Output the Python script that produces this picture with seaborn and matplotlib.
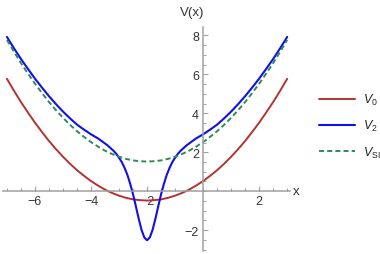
import matplotlib
matplotlib.use("Agg")
import matplotlib.pyplot as plt
import seaborn as sns
from matplotlib.ticker import FixedLocator, MultipleLocator

# values
x_grid = [-7, -6.75, -6.5, -6.25, -6, -5.75, -5.5, -5.25, -5, -4.75, -4.5, -4.25, -4,
          -3.75, -3.5, -3.25, -3, -2.75, -2.5, -2.25, -2, -1.75, -1.5, -1.25, -1,
          -0.75, -0.5, -0.25, 0, 0.25, 0.5, 0.75, 1, 1.25, 1.5, 1.75, 2, 2.25, 2.5, 2.75, 3]
v0 = [5.77, 5.16, 4.58, 4.04, 3.52, 3.04, 2.58, 2.16, 1.77, 1.41, 1.08, 0.79, 0.52,
      0.29, 0.08, -0.09, -0.23, -0.34, -0.42, -0.46, -0.48, -0.46, -0.42, -0.34, -0.23,
      -0.09, 0.08, 0.29, 0.52, 0.79, 1.08, 1.41, 1.77, 2.16, 2.58, 3.04, 3.52, 4.04, 4.58, 5.16, 5.77]
v_si = [7.77, 7.16, 6.58, 6.04, 5.52, 5.04, 4.58, 4.16, 3.77, 3.41, 3.08, 2.79, 2.52,
        2.29, 2.08, 1.91, 1.77, 1.66, 1.58, 1.54, 1.52, 1.54, 1.58, 1.66, 1.77,
        1.91, 2.08, 2.29, 2.52, 2.79, 3.08, 3.41, 3.77, 4.16, 4.58, 5.04, 5.52, 6.04, 6.58, 7.16, 7.77]

x_v2 = [-7, -6.75, -6.5, -6.25, -6, -5.75, -5.5, -5.25, -5, -4.75, -4.5, -4.25, -4, -3.75,
        -3.5, -3.4, -3.3, -3.2, -3.1, -3.0, -2.9, -2.8, -2.7, -2.6, -2.5, -2.4, -2.3, -2.2, -2.1,
        -2.0, -1.9, -1.8, -1.7, -1.6, -1.5, -1.4, -1.3, -1.2, -1.1, -1.0, -0.9, -0.8, -0.7, -0.6, -0.5,
        -0.25, 0, 0.25, 0.5, 0.75, 1, 1.25, 1.5, 1.75, 2, 2.25, 2.5, 2.75, 3]
v2 = [7.92, 7.34, 6.79, 6.28, 5.78, 5.32, 4.88, 4.47, 4.09, 3.74, 3.42, 3.16, 2.92, 2.71,
      2.45, 2.34, 2.21, 2.08, 1.92, 1.72, 1.49, 1.19, 0.83, 0.37, -0.16, -0.77, -1.40, -1.97, -2.37,
      -2.52, -2.37, -1.97, -1.40, -0.77, -0.16, 0.37, 0.83, 1.19, 1.49, 1.72, 1.92, 2.08, 2.21, 2.34, 2.45,
      2.71, 2.92, 3.16, 3.42, 3.74, 4.09, 4.47, 4.88, 5.32, 5.78, 6.28, 6.79, 7.34, 7.92]

x_ticks = [-6, -4, -2, 2]
y_ticks = [-2, 2, 4, 6, 8]

sns.set_style("white")
plt.rcParams['font.family'] = ['Liberation Sans', 'DejaVu Sans']
plt.rcParams['mathtext.fontset'] = 'custom'
plt.rcParams['mathtext.it'] = 'Liberation Sans:italic'
plt.rcParams['mathtext.rm'] = 'Liberation Sans'

fig = plt.figure(figsize=(3.8, 2.55), dpi=100)
ax = fig.add_axes([3/380, 3/255, 287/380, 224/255])

sns.lineplot(x=x_grid, y=v0, ax=ax, color='#b33232', lw=1.4, label=r'$V_0$')
sns.lineplot(x=x_v2, y=v2, ax=ax, color='#1010e8', lw=1.5, label=r'$V_2$')
sns.lineplot(x=x_grid, y=v_si, ax=ax, color='#2e8b57', lw=1.4, linestyle=(0, (2.6, 1.6)),
             label=r'$V_{\rm SI}$')

ax.set_xlim(-7.14, 3.1)
ax.set_ylim(-3.07, 8.43)

for side in ['top', 'right']:
    ax.spines[side].set_visible(False)
for side in ['left', 'bottom']:
    ax.spines[side].set_position(('data', 0))
    ax.spines[side].set_color('#a0a0a0')
    ax.spines[side].set_linewidth(1.1)

ax.xaxis.set_major_locator(FixedLocator(x_ticks))
ax.yaxis.set_major_locator(FixedLocator(y_ticks))
ax.xaxis.set_minor_locator(MultipleLocator(0.5))
ax.yaxis.set_minor_locator(MultipleLocator(0.5))
ax.tick_params(which='major', direction='in', length=3.5, width=0.8, color='#a0a0a0',
               labelsize=9, labelcolor='#333333', pad=3)
ax.tick_params(which='minor', direction='in', length=2, width=0.7, color='#a0a0a0')
ax.tick_params(axis='x', which='both', bottom=True)
ax.tick_params(axis='y', which='both', left=True)

ax.text(3.2, 0, 'x', fontsize=9.5, color='#333333', va='center', ha='left', clip_on=False)
ax.text(-0.4, 9.2, 'V(x)', fontsize=9.5, color='#333333', va='center', ha='center', clip_on=False)

ax.legend(loc='upper left', bbox_to_anchor=(319/380, 1 - 93/255), bbox_transform=fig.transFigure,
          frameon=False, fontsize=9, handlelength=2.9, handletextpad=0.6,
          borderpad=0, borderaxespad=0, labelspacing=0.9)

fig.savefig('out.png', dpi=100)
